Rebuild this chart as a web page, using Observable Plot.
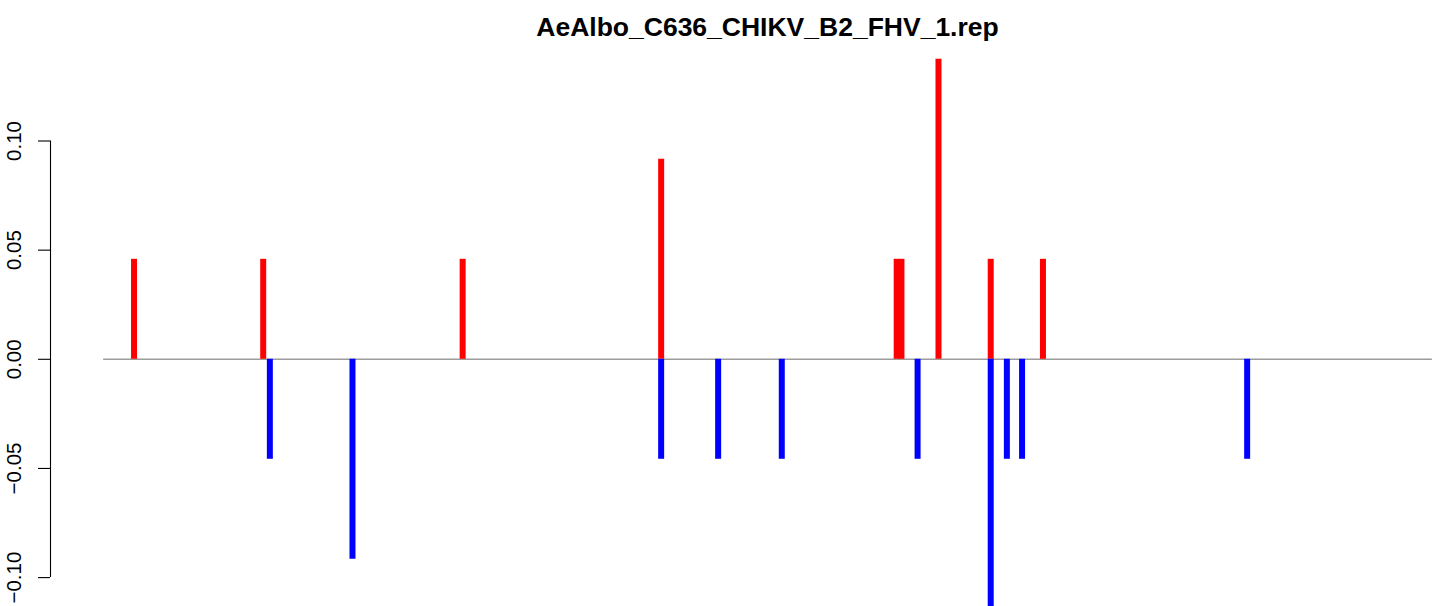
<!DOCTYPE html>
<html>
<head>
<meta charset="utf-8">
<script src="https://cdn.jsdelivr.net/npm/d3@7"></script>
<script src="https://cdn.jsdelivr.net/npm/@observablehq/plot@0.6"></script>
<style>
  html, body { margin: 0; padding: 0; background: #fff; overflow: hidden; }
  #title {
    height: 50px; box-sizing: border-box; margin-left: 96px; width: 1343px;
    padding-top: 14.3px; text-align: center; white-space: nowrap;
    font-family: "Liberation Sans", Arial, Helvetica, sans-serif;
    font-weight: bold; font-size: 26.5px; line-height: 26.5px; color: #000;
  }
  #chart svg { display: block; }
</style>
</head>
<body>
<div id="title">AeAlbo_C636_CHIKV_B2_FHV_1.rep</div>
<div id="chart"></div>
<script>
// Sequence length (positions 1..seqLength)
const seqLength = 1400;
// Positive-strand (red) bars
const plusPositions = [33, 169, 379, 588, 836, 841, 880, 935, 990];
const plusValues    = [0.0458, 0.0458, 0.0458, 0.0916, 0.0458, 0.0458, 0.1374, 0.0458, 0.0458];
// Negative-strand (blue) bars
const minusPositions = [176, 263, 588, 648, 715, 858, 935, 952, 968, 1205];
const minusValues    = [-0.0458, -0.0916, -0.0458, -0.0458, -0.0458, -0.0458, -0.1374, -0.0458, -0.0458, -0.0458];
// Y tick values
const yTicks = [-0.10, -0.05, 0.00, 0.05, 0.10];

const bars = [
  ...plusPositions.map((p, i) => ({pos: p, value: plusValues[i], strand: "+"})),
  ...minusPositions.map((p, i) => ({pos: p, value: minusValues[i], strand: "-"}))
];

const pad = 0.04 * (seqLength - 1);
const xDomain = [1 - pad, seqLength + pad];
const fmt = d3.format(".2f");
const font = "'Liberation Sans', Arial, Helvetica, sans-serif";

const chart = Plot.plot({
  width: 1439,
  height: 556,
  marginLeft: 50,
  marginRight: 0,
  marginTop: 0,
  marginBottom: 0,
  style: {fontFamily: font, background: "white", overflow: "hidden"},
  x: {domain: xDomain, range: [50, 1485], axis: null},
  y: {domain: [-0.15, 0.15], range: [308.8 + 0.15 * 2183, 308.8 - 0.15 * 2183], axis: null, label: null},
  marks: [
    Plot.ruleY([0], {x1: 1, x2: seqLength, stroke: "#9c9c9c", strokeWidth: 1.6}),
    Plot.ruleX(bars, {
      x: "pos", y1: 0, y2: "value",
      stroke: d => d.strand === "+" ? "#ff0000" : "#0000ff",
      strokeWidth: 6
    }),
    Plot.ruleX([xDomain[0]], {y1: yTicks[0], y2: yTicks[yTicks.length - 1], stroke: "#000", strokeWidth: 1.1}),
    Plot.axisY({ticks: yTicks, tickSize: 12, tickFormat: () => "", anchor: "left", label: null, stroke: "#000", strokeWidth: 1.1}),
    Plot.text(yTicks, {
      x: () => xDomain[0], y: d => d, text: d => fmt(d),
      rotate: -90, dx: -29.5, lineAnchor: "bottom", textAnchor: "middle",
      fontSize: 20.5, fill: "#000"
    })
  ]
});
document.getElementById("chart").appendChild(chart);
</script>
</body>
</html>
